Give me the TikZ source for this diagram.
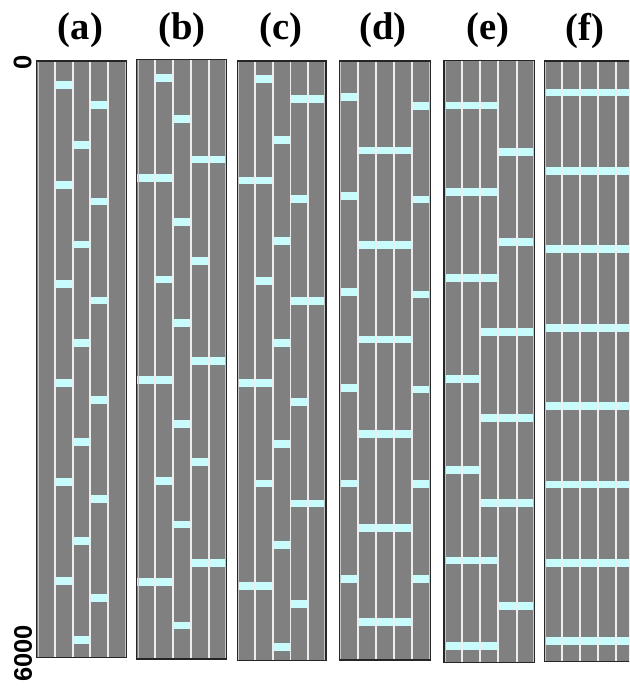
\documentclass[tikz,border=0pt]{standalone}
\usepackage{fontspec}
\usepackage{tikz}
\newfontfamily\tagfont{Liberation Serif}
\newfontfamily\tickfont{Liberation Sans}
\definecolor{cellgray}{HTML}{808080}
\definecolor{slabcyan}{HTML}{C8FCFC}
\definecolor{sepwhite}{HTML}{EDEDED}

\newcommand{\strips}[5]{%
	\begin{scope}[shift={(#1,#2)},yscale={(#3-#2)/6000}]
		\fill[cellgray] (0,0) rectangle (#4,6000);
		\foreach \ca/\cb/\yc in {#5}
			\fill[slabcyan] ({(\ca-1)*#4/5},\yc-39) rectangle ({\cb*#4/5},\yc+39);
		\foreach \k in {1,...,4}
			\draw[sep] ({\k*#4/5},0) -- ({\k*#4/5},6000);
		\draw[inrim] (1.3,0) -- (1.3,6000) (#4-1.3,0) -- (#4-1.3,6000);
		\draw[rim] (0,0) rectangle (#4,6000);
	\end{scope}}

\begin{document}
\begin{tikzpicture}[x=0.02cm,y=-0.02cm,
		sep/.style={sepwhite,line width=1.1pt},
		inrim/.style={gray!45,line width=0.5pt},
		rim/.style={black!85,line width=0.7pt},
		tag/.style={inner sep=0,font=\tagfont\bfseries\fontsize{22}{22}\selectfont},
		tick/.style={inner sep=0,rotate=90,font=\tickfont\bfseries\fontsize{14.5}{14.5}\selectfont}]

			\useasboundingbox (0,0) rectangle (629,688);
			\clip (0,0) rectangle (629,688);

			\strips{36.7}{61}{657.3}{89.6}{2/2/245,2/2/1251,2/2/2246,2/2/3241,2/2/4237,2/2/5232,
				3/3/843,3/3/1846,3/3/2841,3/3/3836,3/3/4831,3/3/5826,
				4/4/446,4/4/1414,4/4/2411,4/4/3408,4/4/4406,4/4/5403}
			\strips{136.7}{59.7}{659}{90}{2/2/183,2/2/2200,2/2/4215,
				3/3/596,3/3/1625,3/3/2635,3/3/3645,3/3/4655,3/3/5665,
				4/5/999,4/5/3020,4/5/5043,1/2/1184,1/2/3206,1/2/5229,4/4/2015,4/4/4030}
			\strips{237.3}{61}{660.7}{88.7}{2/2/178,2/2/2203,2/2/4228,4/5/377,4/5/2402,4/5/4427,
				3/3/790,3/3/1804,3/3/2818,3/3/3832,3/3/4846,3/3/5862,
				1/2/1196,1/2/3224,1/2/5253,4/4/1380,4/4/3408,4/4/5436}
			\strips{339.3}{61}{660}{91.4}{1/1/363,1/1/1352,1/1/2312,1/1/3272,1/1/4232,1/1/5192,
				5/5/451,5/5/1387,5/5/2340,5/5/3290,5/5/4240,5/5/5192,
				2/4/897,2/4/1847,2/4/2790,2/4/3735,2/4/4678,2/4/5622}
			\strips{444}{60.3}{662.7}{90.7}{1/3/450,1/3/1314,1/3/2165,1/3/4982,1/3/5835,
				4/5/915,4/5/1811,4/5/5437,3/5/2706,3/5/3565,3/5/4412,1/2/3175,1/2/4083}
			\strips{544.3}{61}{661.7}{90}{1/5/315,1/5/1098,1/5/1881,1/5/2664,
				1/5/3447,1/5/4230,1/5/5013,1/5/5796}

			\node[tag] (ta) at (80.5,30) {(a)};
			\node[tag] (tb) at (182,30) {(b)};
			\node[tag] (tc) at (281,30) {(c)};
			\node[tag] (td) at (383,30) {(d)};
			\node[tag] (te) at (488,30) {(e)};
			\node[tag] (tf) at (585,31) {(f)};

			\node[tick] (y0) at (22.5,62.5) {0};
			\node[tick] (y6000) at (23,653.5) {6000};

		\end{tikzpicture}
\end{document}
